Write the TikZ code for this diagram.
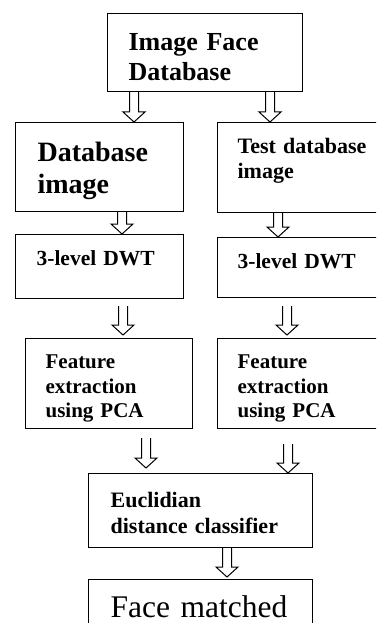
\documentclass[tikz,border=0pt]{standalone}
\usepackage{fontspec}
\setmainfont{Liberation Serif}
\usetikzlibrary{calc}

\tikzset{
  box/.style={draw, line width=1.2pt, anchor=north west, align=left, inner ysep=0pt},
  hollow/.style={line width=1pt, to path={
      let \p1=(\tikztostart), \p2=(\tikztotarget) in
      (\x1-4.5pt,\y1) -- (\x1-4.5pt,\y2+10pt) -- (\x1-11pt,\y2+10pt) -- (\x1,\y2)
      -- (\x1+11pt,\y2+10pt) -- (\x1+4.5pt,\y2+10pt) -- (\x1+4.5pt,\y1)}}
}

\begin{document}
\begin{tikzpicture}[x=1pt, y=-1pt]
            \useasboundingbox (0,0) rectangle (376,623);
            \clip (0,0) rectangle (376,623);

            \node[box, minimum width=195pt, minimum height=78pt, inner xsep=21pt, text width=153pt,
                  text height=17pt, text depth=21pt, font=\fontsize{26}{30}\selectfont\bfseries]
                  (imgdb) at (107,13) {Image Face\\Database};
            \node[box, minimum width=168pt, minimum height=89pt, inner xsep=22pt, text width=124pt,
                  text height=19pt, text depth=30pt, font=\fontsize{28}{32}\selectfont\bfseries]
                  (dbimg) at (15,122) {Database\\image};
            \node[box, minimum width=170pt, minimum height=90pt, inner xsep=20pt, text width=130pt,
                  text height=15pt, text depth=43pt, font=\fontsize{22}{25}\selectfont\bfseries]
                  (testimg) at (217,122) {Test database\\image};
            \node[box, minimum width=168pt, minimum height=64pt, inner xsep=21pt, text width=126pt,
                  text height=15pt, text depth=17pt, font=\fontsize{21.5}{25}\selectfont\bfseries]
                  (dwtL) at (15,234) {3-level DWT};
            \node[box, minimum width=170pt, minimum height=60pt, inner xsep=20pt, text width=130pt,
                  text height=15pt, text depth=13pt, font=\fontsize{21.5}{25}\selectfont\bfseries]
                  (dwtR) at (217,237) {3-level DWT};
            \node[box, minimum width=167pt, minimum height=90pt, inner xsep=20pt, text width=127pt,
                  text height=15pt, text depth=45pt, font=\fontsize{21}{24.5}\selectfont\bfseries]
                  (featL) at (25,338) {Feature\\extraction\\using PCA};
            \node[box, minimum width=170pt, minimum height=90pt, inner xsep=20pt, text width=130pt,
                  text height=15pt, text depth=45pt, font=\fontsize{21}{24.5}\selectfont\bfseries]
                  (featR) at (217,338) {Feature\\extraction\\using PCA};
            \node[box, minimum width=224pt, minimum height=74pt, inner xsep=22pt, text width=180pt,
                  text height=16pt, text depth=22pt, font=\fontsize{22}{26}\selectfont\bfseries]
                  (eucl) at (88,473) {Euclidian\\distance classifier};
            \node[box, minimum width=224pt, minimum height=56pt, inner xsep=22pt, text width=180pt,
                  text height=21pt, text depth=1pt, font=\fontsize{31.5}{36}\selectfont]
                  (face) at (88,579) {Face matched};

            \draw [hollow] ([xshift=27pt]imgdb.south west) to (dbimg.north);
            \draw [hollow] ([xshift=163pt]imgdb.south west) to (testimg.north);
            \draw [hollow] ([xshift=107pt]dbimg.south west) to (dwtL.north);
            \draw [hollow] ([xshift=61pt]testimg.south west) to (dwtR.north);
            \draw [hollow] ([xshift=108pt, yshift=-7pt]dwtL.south west) to ([yshift=3pt]featL.north);
            \draw [hollow] ([xshift=70pt, yshift=-8pt]dwtR.south west) to ([yshift=3pt]featR.north);
            \draw [hollow] ([xshift=121pt, yshift=-9pt]featL.south west) to ([yshift=5pt]eucl.north);
            \draw [hollow] ([xshift=71pt, yshift=-15pt]featR.south west) to (eucl.north);
            \draw [hollow] ([xshift=139pt]eucl.south west) to ([yshift=2pt]face.north);
        \end{tikzpicture}
\end{document}
